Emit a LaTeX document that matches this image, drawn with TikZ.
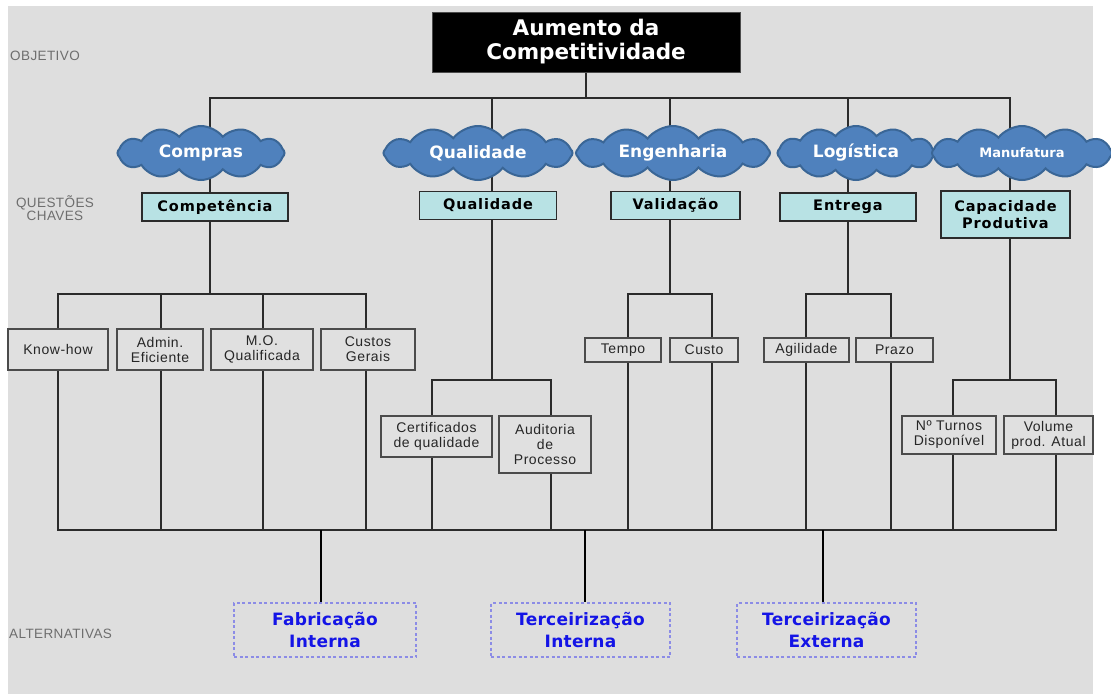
\documentclass[tikz,border=0pt]{standalone}
\usepackage{fontspec}
\setmainfont{Liberation Sans}
\newfontfamily\headfont{DejaVu Sans}
\newfontfamily\keyfont[LetterSpace=6]{DejaVu Sans}
\newfontfamily\altfont[LetterSpace=1.5]{DejaVu Sans}
\newfontfamily\leaffont[LetterSpace=4]{Liberation Sans}
\newfontfamily\sidefont[LetterSpace=3]{Liberation Sans}
\usetikzlibrary{shapes.symbols}

\definecolor{panel}{HTML}{DEDEDE}
\definecolor{cloudfill}{HTML}{4F81BD}
\definecolor{cloudedge}{HTML}{3A6696}
\definecolor{keyfill}{HTML}{B8E2E4}
\definecolor{leaffill}{HTML}{E0E0E0}
\definecolor{wirecol}{HTML}{2B2B2B}
\definecolor{altblue}{HTML}{1414E6}
\definecolor{altedge}{HTML}{8C8CE6}
\definecolor{sidegray}{HTML}{6E6E6E}

\pgfdeclarelayer{panel}
\pgfdeclarelayer{wires}
\pgfsetlayers{panel,wires,main}

\tikzset{
  goalbox/.style={rectangle, fill=black, draw=black!70, line width=1pt,
    minimum width=308pt, minimum height=60pt, text=white, align=center,
    inner sep=0pt, font=\headfont\bfseries\fontsize{21.5}{24}\selectfont},
  area/.style={cloud, cloud puffs=12, cloud puff arc=105, cloud ignores aspect,
    fill=cloudfill, draw=cloudedge, line width=2pt, text=white,
    minimum height=54pt, inner sep=0pt,
    font=\headfont\bfseries\fontsize{17}{19}\selectfont},
  keybox/.style={rectangle, fill=keyfill, draw=wirecol, line width=1.8pt,
    align=center, inner sep=0pt, minimum height=28pt,
    font=\keyfont\bfseries\fontsize{14.5}{17}\selectfont},
  leaf/.style={rectangle, fill=leaffill, draw=wirecol!85, line width=1.6pt,
    align=center, inner sep=0pt, text=black!85,
    font=\leaffont\fontsize{14}{15}\selectfont},
  alt/.style={rectangle, draw=altedge, dash pattern=on 3pt off 2.5pt,
    line width=1.6pt, text=altblue, align=center, minimum width=180pt,
    minimum height=54pt, inner sep=0pt,
    font=\altfont\bfseries\fontsize{17}{22}\selectfont},
  side/.style={text=sidegray, align=center, inner sep=0pt,
    font=\sidefont\fontsize{13.5}{13.5}\selectfont},
  wire/.style={draw=wirecol, line width=1.6pt, line cap=rect},
  heavywire/.style={draw=black, line width=2.8pt},
}

\begin{document}
\begin{tikzpicture}[x=1pt, y=-1pt]
\useasboundingbox (0,0) rectangle (1111,694);
\begin{pgfonlayer}{panel}
  \fill[white] (0,0) rectangle (1111,694);
  \fill[panel] (8,6) rectangle (1093,694);
\end{pgfonlayer}

% side labels
\node[side, anchor=west] (lobj) at (10,56) {OBJETIVO};
\node[side] (lkey) at (55,208) {QUESTÕES\\CHAVES};
\node[side, anchor=west] (lalt) at (9,634) {ALTERNATIVAS};

% goal
\node[goalbox] (goal) at (586,42) {Aumento da\\Competitividade};

% areas
\node[area, minimum width=167pt] (compras) at (201,153) {Compras};
\node[area, minimum width=189pt] (qualidade) at (478,153) {Qualidade};
\node[area, minimum width=194pt] (engenharia) at (673,153) {Engenharia};
\node[area, minimum width=157pt] (logistica) at (856,153) {Logística};
\node[area, minimum width=180pt,
      font=\headfont\bfseries\fontsize{13}{15}\selectfont] (manufatura) at (1022,153) {Manufatura};

% key questions
\node[keybox, minimum width=146pt] (kcomp) at (215,207) {Competência};
\node[keybox, minimum width=137pt] (kqual) at (488,205.5) {Qualidade};
\node[keybox, minimum width=129pt] (kval) at (675.5,205.5) {Validação};
\node[keybox, minimum width=136pt] (kent) at (848,207) {Entrega};
\node[keybox, minimum width=129pt, minimum height=47pt] (kcap) at (1005.5,214.5) {Capacidade\\Produtiva};

% factors
\node[leaf, minimum width=100pt, minimum height=41pt] (knowhow) at (58,349.5) {Know-how};
\node[leaf, minimum width=86pt, minimum height=41pt] (admin) at (160,349.5) {Admin.\\Eficiente};
\node[leaf, minimum width=102pt, minimum height=41pt] (mo) at (262,349.5) {M.O.\\Qualificada};
\node[leaf, minimum width=94pt, minimum height=41pt] (custos) at (368,349.5) {Custos\\Gerais};
\node[leaf, minimum width=111pt, minimum height=41pt] (cert) at (436.5,436.5) {Certificados\\de qualidade};
\node[leaf, minimum width=92pt, minimum height=57pt] (audit) at (545,444.5) {Auditoria\\de\\Processo};
\node[leaf, minimum width=76pt, minimum height=24pt] (tempo) at (623,350) {Tempo};
\node[leaf, minimum width=68pt, minimum height=24pt] (custo) at (704,350) {Custo};
\node[leaf, minimum width=85pt, minimum height=24pt] (agil) at (806.5,350) {Agilidade};
\node[leaf, minimum width=77pt, minimum height=24pt] (prazo) at (894.5,350) {Prazo};
\node[leaf, minimum width=94pt, minimum height=38pt] (turnos) at (949,435) {Nº Turnos\\Disponível};
\node[leaf, minimum width=89pt, minimum height=38pt] (volume) at (1048.5,435) {Volume\\prod. Atual};

% alternatives
\node[alt, minimum width=182pt] (fab) at (325,630) {Fabricação\\Interna};
\node[alt, minimum width=179pt] (terint) at (580.5,630) {Terceirização\\Interna};
\node[alt, minimum width=179pt] (terext) at (826.5,630) {Terceirização\\Externa};

\begin{pgfonlayer}{wires}
  % goal to the five areas
  \coordinate (hub) at (586,98);
  \draw[wire] (goal.south) -- (goal.south |- hub);
  \coordinate (c1) at (210,98);
  \coordinate (c2) at (492,98);
  \coordinate (c3) at (670,98);
  \coordinate (c4) at (848,98);
  \coordinate (c5) at (1010,98);
  \draw[wire] (c1) -- (c5);
  % area -> key question -> factor bar
  \coordinate (g1) at (210,294);
  \coordinate (g2) at (492,380);
  \coordinate (g3) at (670,294);
  \coordinate (g4) at (848,294);
  \coordinate (g5) at (1010,380);
  \foreach \i in {1,...,5} \draw[wire] (c\i) -- (g\i);
  \draw[wire] (58,294) coordinate (bar1l) -- (366,294) coordinate (bar1r);
  \draw[wire] (432,380) coordinate (bar2l) -- (551,380) coordinate (bar2r);
  \draw[wire] (628,294) coordinate (bar3l) -- (712,294) coordinate (bar3r);
  \draw[wire] (806,294) coordinate (bar4l) -- (891,294) coordinate (bar4r);
  \draw[wire] (953,380) coordinate (bar5l) -- (1056,380) coordinate (bar5r);
  % common bus
  \coordinate (bus) at (0,530);
  \draw[wire] (58,530) coordinate (busl) -- (1056,530) coordinate (busr);
  % factors hang from their bar and drop to the bus
  \foreach \n/\x/\y in {knowhow/58/294, admin/161/294, mo/263/294, custos/366/294,
      cert/432/380, audit/551/380, tempo/628/294, custo/712/294,
      agil/806/294, prazo/891/294, turnos/953/380, volume/1056/380} {
    \coordinate (top-\n) at (\x,\y);
    \draw[wire] (top-\n) -- (top-\n |- \n.north);
    \draw[wire] (top-\n |- \n.south) -- (top-\n |- bus);
  }
  % bus to the alternatives
  \foreach \n/\x in {fab/321, terint/585, terext/823} {
    \coordinate (drop-\n) at (\x,530);
    \draw[heavywire] (drop-\n) -- (drop-\n |- \n.north);
  }
\end{pgfonlayer}
\end{tikzpicture}
\end{document}
